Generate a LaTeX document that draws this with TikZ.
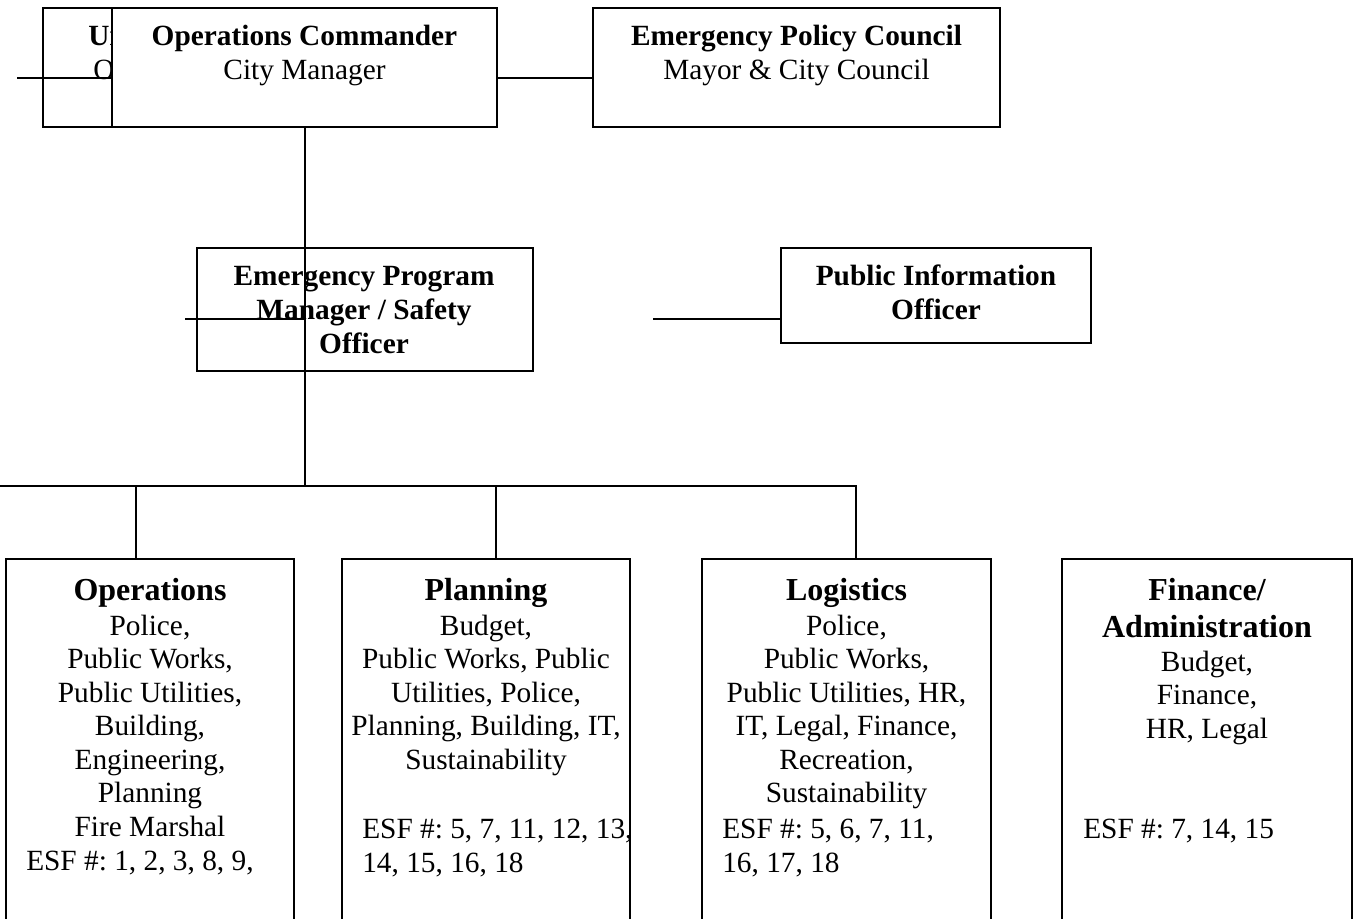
\documentclass[tikz,border=0pt]{standalone}
\usepackage{fontspec}
\setmainfont{Liberation Serif}
\frenchspacing
\usetikzlibrary{fit,backgrounds}

\tikzset{
  box/.style={draw, line width=1.3pt, inner sep=0pt},
  link/.style={line width=1.5pt},
  txt/.style={anchor=base, inner sep=0pt, font=\fontsize{22}{25}\selectfont},
  hd/.style={txt, font=\fontsize{22}{25}\selectfont\bfseries},
  ttl/.style={txt, font=\fontsize{24}{28}\selectfont\bfseries},
  esf/.style={txt, anchor=base west}
}

\begin{document}
\begin{tikzpicture}[x=0.75pt,y=-0.75pt]
\useasboundingbox (0,0) rectangle (1353,919);
\clip (0,0) rectangle (1353,919);

\node[box, fill=white, fit={(112,8) (497,127)}] (cmd) {};
\node[hd] (cmd1) at (304.5,46) {Operations Commander};
\node[txt] (cmd2) at (304.5,80) {City Manager};

\node[box, fit={(593,8) (1000,127)}] (epc) {};
\node[hd] (epc1) at (796.5,46) {Emergency Policy Council};
\node[txt] (epc2) at (796.5,80) {Mayor \& City Council};

\coordinate (s1) at (17,78);
\draw[link] (cmd.east |- s1) -- (epc.west |- s1);

\begin{scope}[on background layer]
  \node[box, fit={(43,8) (367,127)}] (uc) {};
  \node[hd, anchor=base west] (uc1) at (88,46) {Un};
  \node[txt, anchor=base west] (uc2) at (93,80) {O};
  \draw[link] (s1) -- (s1 -| cmd.west);
\end{scope}

\node[box, fit={(197,248) (533,371)}] (epm) {};
\foreach \t [count=\i] in {Emergency Program, Manager / Safety, Officer}
  \node[hd] (epm\i) at (364,{286+34*(\i-1)}) {\t};

\node[box, fit={(781,248) (1091,343)}] (pio) {};
\node[hd] (pio1) at (936,286) {Public Information};
\node[hd] (pio2) at (936,320) {Officer};

\coordinate (s2) at (185,319);
\coordinate (s3) at (653,319);
\coordinate (busL) at (0,486);
\coordinate (busR) at (856,486);
\coordinate (d1) at (136,486);
\coordinate (d2) at (496,486);

\draw[link] (cmd.south) -- (cmd.south |- busL);
\draw[link] (s2) -- (s2 -| cmd.south);
\draw[link] (s3) -- (s3 -| pio.west);

\node[box, fit={(6,559) (294,940)}] (ops) {};
\node[box, fit={(342,559) (630,940)}] (pln) {};
\node[box, fit={(702,559) (991,940)}] (log) {};
\node[box, fit={(1062,559) (1352,940)}] (fin) {};

\draw[link] (busL) -- (busR) -- (busR |- log.north);
\draw[link] (d1) -- (d1 |- ops.north);
\draw[link] (d2) -- (d2 |- pln.north);

\node[ttl] (ops0) at (150,600) {Operations};
\foreach \t [count=\i] in {{Police,},{Public Works,},{Public Utilities,},{Building,},{Engineering,},{Planning},{Fire Marshal}}
  \node[txt] (ops\i) at (150,{635+33.5*(\i-1)}) {\t};
\node[esf] (opse) at (26,870) {ESF \#: 1, 2, 3, 8, 9,};

\node[ttl] (pln0) at (486,600) {Planning};
\foreach \t [count=\i] in {{Budget,},{Public Works, Public},{Utilities, Police,},{Planning, Building, IT,},{Sustainability}}
  \node[txt] (pln\i) at (486,{635+33.5*(\i-1)}) {\t};
\node[esf] (plne1) at (362,838.5) {ESF \#: 5, 7, 11, 12, 13,};
\node[esf] (plne2) at (362,872) {14, 15, 16, 18};

\node[ttl] (log0) at (846.5,600) {Logistics};
\foreach \t [count=\i] in {{Police,},{Public Works,},{Public Utilities, HR,},{IT, Legal, Finance,},{Recreation,},{Sustainability}}
  \node[txt] (log\i) at (846.5,{635+33.5*(\i-1)}) {\t};
\node[esf] (loge1) at (722,838.5) {ESF \#: 5, 6, 7, 11,};
\node[esf] (loge2) at (722,872) {16, 17, 18};

\node[ttl] (fin0) at (1207,600) {Finance/};
\node[ttl] (fin00) at (1207,637) {Administration};
\foreach \t [count=\i] in {{Budget,},{Finance,},{HR, Legal}}
  \node[txt] (fin\i) at (1207,{671+33.5*(\i-1)}) {\t};
\node[esf] (fine) at (1083,838.5) {ESF \#: 7, 14, 15};
\end{tikzpicture}
\end{document}
